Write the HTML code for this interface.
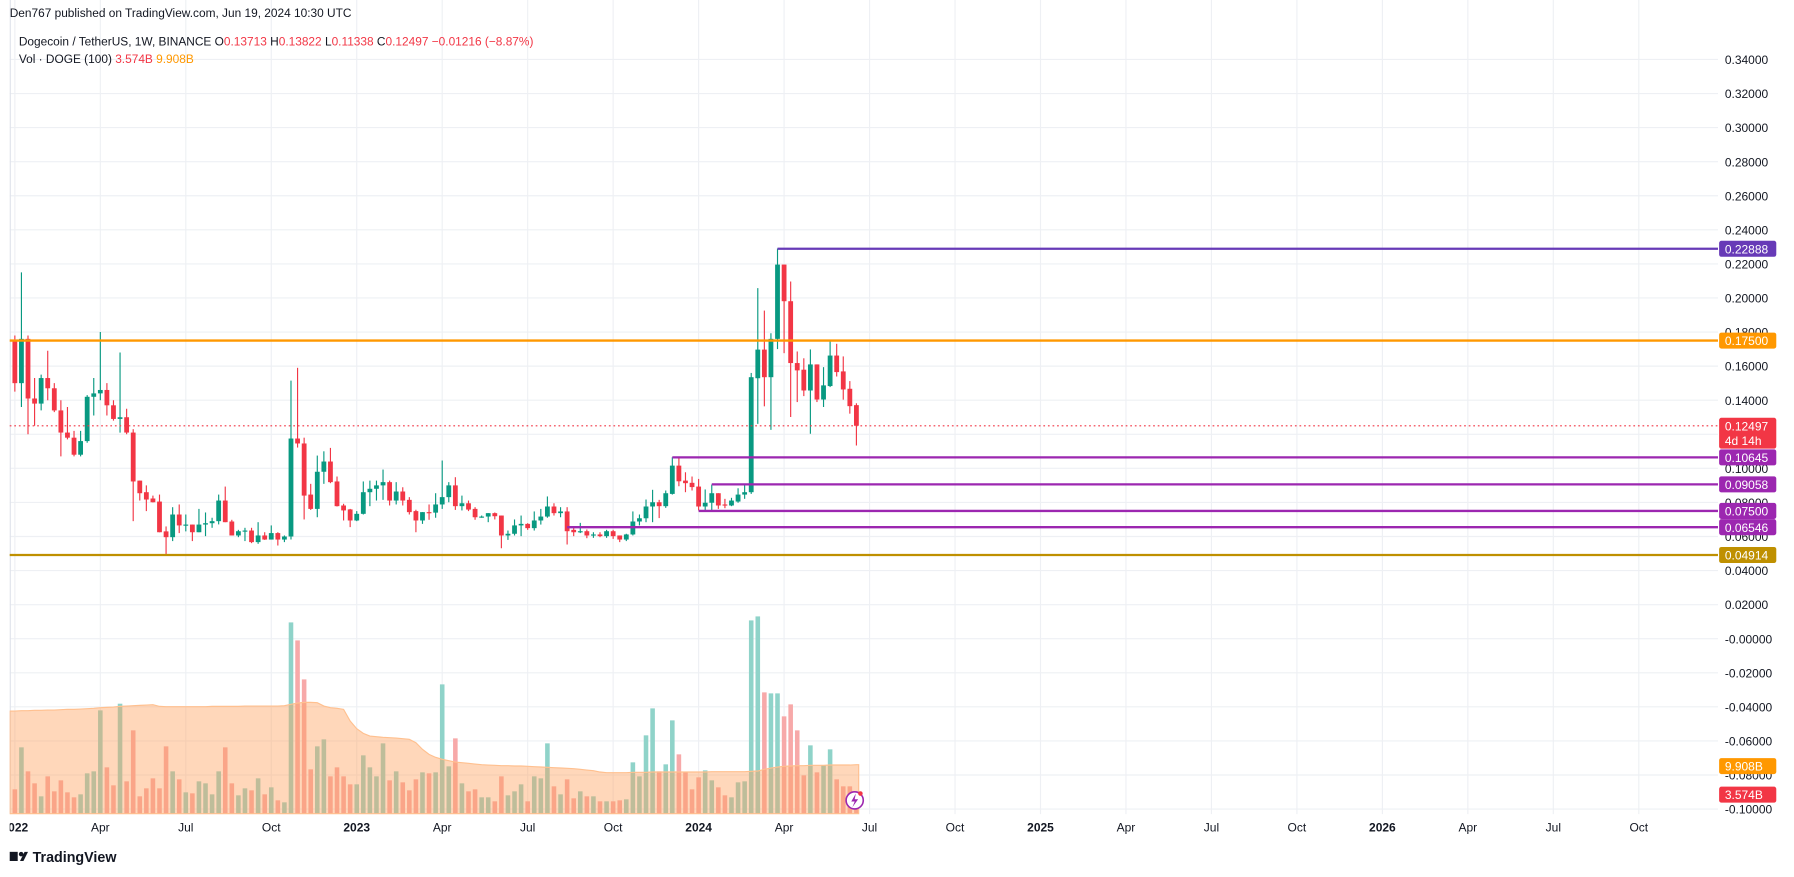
<!DOCTYPE html>
<html><head><meta charset="utf-8"><style>
html,body{margin:0;padding:0;background:#fff;}
svg{display:block;font-family:"Liberation Sans",sans-serif;}
</style></head><body>
<svg id="chart" width="1794" height="877" viewBox="0 0 1568 767" xmlns="http://www.w3.org/2000/svg">
<defs><clipPath id="plotclip"><rect x="8" y="0" width="1494" height="767"/></clipPath></defs>
<rect x="0" y="0" width="1568" height="767" fill="#fff"/>
<g id="grid"></g>
<line x1="8.5" y1="0" x2="8.5" y2="712" stroke="#e0e3eb" stroke-width="1"/>
<g id="volume" clip-path="url(#plotclip)"></g>
<g id="candles" clip-path="url(#plotclip)"></g>
<g id="levels"></g>
<g id="yaxis"></g>
<g id="xaxis"></g>
<g>
<text x="8" y="15" font-size="10.4" fill="#131722">Den767 published on TradingView.com, Jun 19, 2024 10:30 UTC</text>
<text x="16" y="40" font-size="10.4" fill="#131722">Dogecoin / TetherUS, 1W, BINANCE <tspan fill="#131722">O</tspan><tspan fill="#f23645">0.13713</tspan> <tspan fill="#131722">H</tspan><tspan fill="#f23645">0.13822</tspan> <tspan fill="#131722">L</tspan><tspan fill="#f23645">0.11338</tspan> <tspan fill="#131722">C</tspan><tspan fill="#f23645">0.12497 −0.01216 (−8.87%)</tspan></text>
<text x="16" y="55" font-size="10.4" fill="#131722">Vol · DOGE (100) <tspan fill="#f23645">3.574B</tspan> <tspan fill="#ff9800">9.908B</tspan></text>
</g>
<g>
<rect x="8" y="745" width="7" height="8" fill="#131722"/><circle cx="18" cy="747" r="2" fill="#131722"/><path d="M17 753 L21 745 L24 745 L20 753 Z" fill="#131722"/>
<text x="28" y="754" font-size="12.5" font-weight="bold" fill="#131722">TradingView</text>
</g>
<g>
<circle cx="747" cy="700" r="7.5" fill="#fff" stroke="#9c27b0" stroke-width="1.4"/>
<path d="M748 694 L744 701 L747 701 L745 706 L750 699 L747 699 Z" fill="#9c27b0"/>
<circle cx="752" cy="694" r="2" fill="#f23645"/>
</g>
<script>
const opens=[0.175,0.150,0.176,0.141,0.138,0.153,0.147,0.134,0.121,0.118,0.108,0.116,0.142,0.144,0.146,0.137,0.129,0.130,0.121,0.0928,0.086,0.0823,0.0805,0.063,0.0596,0.0729,0.0665,0.067,0.0625,0.067,0.0678,0.069,0.0811,0.0688,0.0606,0.0631,0.0635,0.0567,0.0606,0.0582,0.062,0.0582,0.060,0.1175,0.1146,0.0846,0.0762,0.098,0.104,0.0923,0.0782,0.0759,0.0694,0.0733,0.086,0.088,0.090,0.0919,0.0811,0.0864,0.0815,0.0749,0.0694,0.0743,0.074,0.0788,0.0831,0.090,0.0778,0.0795,0.0762,0.0713,0.0717,0.0737,0.0723,0.0606,0.0616,0.0665,0.0674,0.0649,0.0694,0.0717,0.0776,0.0737,0.0747,0.0639,0.0625,0.0631,0.0606,0.0612,0.0602,0.0631,0.0606,0.0582,0.0612,0.0688,0.0707,0.0776,0.0801,0.0778,0.085,0.1016,0.0928,0.0915,0.0893,0.0776,0.0798,0.0854,0.0788,0.0782,0.0805,0.0846,0.086,0.1529,0.1697,0.1535,0.176,0.2196,0.1981,0.1618,0.1579,0.1457,0.161,0.1404,0.1483,0.1662,0.1569,0.1467,0.1371];
const highs=[0.178,0.215,0.178,0.153,0.155,0.169,0.150,0.140,0.136,0.122,0.122,0.143,0.153,0.180,0.150,0.140,0.168,0.135,0.123,0.0928,0.090,0.0840,0.0846,0.0659,0.0772,0.0788,0.0729,0.067,0.0762,0.0741,0.0710,0.0846,0.0893,0.0698,0.0639,0.0651,0.0651,0.0684,0.0625,0.0665,0.0625,0.0606,0.1515,0.159,0.118,0.0909,0.1075,0.110,0.112,0.0952,0.0792,0.0762,0.0749,0.0923,0.0928,0.0928,0.0993,0.0928,0.0919,0.0889,0.0831,0.0757,0.0743,0.0788,0.0854,0.1046,0.0919,0.0948,0.0840,0.0811,0.0772,0.0723,0.0737,0.0741,0.0723,0.0635,0.0700,0.0723,0.0678,0.0747,0.0762,0.0835,0.0795,0.0772,0.0772,0.0651,0.0680,0.0641,0.0625,0.0625,0.0639,0.0639,0.0606,0.0616,0.0747,0.0729,0.0817,0.0874,0.0815,0.0870,0.1065,0.1065,0.0977,0.0952,0.0938,0.0876,0.0905,0.0854,0.0821,0.0827,0.0883,0.0903,0.156,0.2058,0.1926,0.1793,0.229,0.2196,0.2097,0.1686,0.1646,0.1698,0.161,0.1594,0.175,0.1731,0.1657,0.1512,0.1382];
const lows=[0.145,0.136,0.120,0.125,0.134,0.140,0.133,0.107,0.117,0.107,0.107,0.115,0.131,0.140,0.131,0.128,0.121,0.120,0.069,0.0811,0.0749,0.0800,0.0625,0.0494,0.0573,0.0620,0.0630,0.0573,0.0625,0.0602,0.0651,0.0671,0.0684,0.0606,0.0596,0.0573,0.0561,0.0557,0.0580,0.0582,0.0547,0.0567,0.0582,0.1122,0.070,0.0756,0.0713,0.0909,0.0913,0.0776,0.0694,0.0655,0.0690,0.0729,0.0778,0.0811,0.0815,0.0782,0.0788,0.0782,0.0729,0.0625,0.0674,0.0698,0.0710,0.0762,0.0801,0.0756,0.0753,0.0749,0.0698,0.0710,0.0684,0.0700,0.0531,0.0580,0.0606,0.0602,0.0639,0.0635,0.0670,0.0710,0.0723,0.0713,0.0553,0.0602,0.0620,0.0590,0.0592,0.0596,0.0592,0.0586,0.0567,0.0573,0.0606,0.0665,0.0684,0.0684,0.0708,0.0768,0.0846,0.0895,0.0860,0.0870,0.0753,0.0753,0.0753,0.0762,0.0766,0.0778,0.0798,0.0821,0.0850,0.1261,0.1364,0.1226,0.170,0.1676,0.1301,0.1389,0.1424,0.1203,0.1389,0.1360,0.1477,0.1539,0.1403,0.1321,0.1134];
const closes=[0.150,0.176,0.141,0.138,0.153,0.147,0.134,0.121,0.118,0.108,0.116,0.142,0.144,0.146,0.137,0.129,0.130,0.121,0.0923,0.0854,0.0817,0.0801,0.0625,0.0596,0.0729,0.0665,0.0670,0.0625,0.067,0.0678,0.069,0.0811,0.0684,0.0606,0.0631,0.0635,0.0567,0.0606,0.0582,0.062,0.0582,0.060,0.1175,0.1146,0.084,0.0762,0.098,0.104,0.0919,0.0778,0.0753,0.0694,0.0733,0.086,0.088,0.090,0.0919,0.0811,0.0864,0.0811,0.0743,0.0694,0.0743,0.074,0.0788,0.0831,0.090,0.0778,0.0795,0.0758,0.0713,0.0717,0.0737,0.0719,0.0606,0.0616,0.0665,0.0674,0.0649,0.0694,0.0717,0.0776,0.0737,0.0747,0.0631,0.0625,0.0631,0.0606,0.0612,0.0602,0.0631,0.0602,0.0582,0.0612,0.0688,0.0707,0.0776,0.0801,0.0778,0.0854,0.1016,0.0924,0.0913,0.089,0.0776,0.0798,0.0854,0.0782,0.0782,0.0811,0.0846,0.086,0.1535,0.1697,0.1535,0.176,0.2196,0.1981,0.1618,0.1575,0.1457,0.161,0.1404,0.1487,0.1662,0.1565,0.1463,0.1365,0.1250];
const volumes=[73,199,127,91,52,112,67,100,64,49,58,121,127,310,139,85,330,97,250,52,76,106,76,202,127,103,64,61,97,91,58,127,199,91,55,76,70,106,58,79,40,34,574,520,403,133,202,223,112,139,112,88,88,175,139,112,211,100,127,94,70,103,124,121,124,388,142,226,91,67,73,49,49,37,112,55,67,88,37,112,106,211,82,58,103,46,67,52,52,37,37,37,40,43,154,112,235,316,127,148,280,178,124,73,109,130,100,79,55,49,94,97,580,592,364,361,361,292,328,250,115,205,124,145,193,103,82,82,60];
const volumeMA=[308,309,309,310,310,311,311,312,313,313,314,315,316,318,319,320,322,323,324,325,326,327,322,321,321,321,321,321,321,321,322,322,322,322,322,323,323,323,323,323,323,324,328,332,334,334,333,323,318,316,313,278,255,241,233,231,229,228,227,225,223,213,193,178,169,163,159,155,153,151,149,147,146,145,144,144,143,143,142,141,140,139,138,137,136,135,133,131,129,125,123,123,123,123,124,124,124,125,125,125,125,125,125,125,125,125,126,126,126,126,126,126,127,128,133,137,140,142,143,144,144,145,145,145,146,146,146,146,147];
const priceTicks=[0.34,0.32,0.30,0.28,0.26,0.24,0.22,0.20,0.18,0.16,0.14,0.12,0.10,0.08,0.06,0.04,0.02,0.00,-0.02,-0.04,-0.06,-0.08,-0.10];
const timeLabels=["2022","Apr","Jul","Oct","2023","Apr","Jul","Oct","2024","Apr","Jul","Oct","2025","Apr","Jul","Oct","2026","Apr","Jul","Oct"];
const timeLabelWeeks=[0,13,26,39,52,65,78,91,104,117,130,143,156,169,182,195,208,221,234,247];
const levelPrices=[0.22888,0.175,0.10645,0.09058,0.075,0.06546,0.04914];
const levelStartWeeks=[116,-3,100,106,104,84,-3];
const levelColors=["#673ab7","#ff9800","#9c27b0","#9c27b0","#9c27b0","#9c27b0","#bf9000"];
const levelNames=["level-0-22888","level-0-175","level-0-10645","level-0-09058","level-0-075","level-0-06546","level-0-04914"];
const lastPrice=0.12497;

const NS="http://www.w3.org/2000/svg";
const X0=12.5, STEP=5.75, PLOT_R=1502;
function xOf(i){return X0+i*STEP;}
function yOf(p){return 52+(0.34-p)*1490;}
const VOL_BASE=711.6, VOL_SCALE=0.2914;
function vY(v){return VOL_BASE-v*VOL_SCALE;}
function mk(tag,attrs,parent){const e=document.createElementNS(NS,tag);for(const k in attrs)e.setAttribute(k,attrs[k]);parent.appendChild(e);return e;}

const grid=document.getElementById('grid');
priceTicks.forEach(p=>{mk('line',{x1:8,x2:PLOT_R,y1:yOf(p),y2:yOf(p),stroke:'#eef0f4','stroke-width':1},grid);});
timeLabelWeeks.forEach(w=>{const x=xOf(w);if(x>8)mk('line',{x1:x,x2:x,y1:0,y2:712,stroke:'#eef0f4','stroke-width':1},grid);});

const vol=document.getElementById('volume');
volumes.forEach((v,i)=>{
  const up=closes[i]>=opens[i];
  const r=mk('rect',{x:xOf(i)-2,y:vY(v),width:4,height:v*VOL_SCALE,fill:up?'#8fd3c9':'#f7a9a9'},vol);
  
  
});
let d='M8 '+VOL_BASE+' L8 '+vY(volumeMA[0]);
volumeMA.forEach((v,i)=>{d+=' L'+xOf(i)+' '+vY(v);});
d+=' L'+(xOf(volumeMA.length-1)+2)+' '+vY(volumeMA[volumeMA.length-1])+' L'+(xOf(volumeMA.length-1)+2)+' '+VOL_BASE+' Z';
const area=mk('path',{d:d,fill:'#ff9f5a','fill-opacity':0.42,stroke:'#ffc08f','stroke-width':1},vol);



const cg=document.getElementById('candles');
closes.forEach((c,i)=>{
  const o=opens[i],up=c>=o,col=up?'#089981':'#f23645',x=xOf(i);
  const g=mk('g',{},cg);
  
  
  mk('line',{x1:x,x2:x,y1:yOf(highs[i]),y2:yOf(lows[i]),stroke:col,'stroke-width':1},g);
  const top=yOf(Math.max(o,c)),bot=yOf(Math.min(o,c));
  mk('rect',{x:x-2.1,y:top,width:4.2,height:Math.max(1,bot-top),fill:col},g);
});

const lv=document.getElementById('levels');
const cur=mk('line',{x1:8,x2:PLOT_R,y1:yOf(lastPrice),y2:yOf(lastPrice),stroke:'#f23645','stroke-width':1,'stroke-dasharray':'1.5,2.5'},lv);


levelPrices.forEach((p,k)=>{
  const x1=Math.max(8,xOf(levelStartWeeks[k]));
  const l=mk('line',{x1:x1,x2:PLOT_R,y1:yOf(p),y2:yOf(p),stroke:levelColors[k],'stroke-width':2},lv);
  
  
});

const ya=document.getElementById('yaxis');
priceTicks.forEach(p=>{
  const t=mk('text',{x:1508,y:yOf(p)+4,'font-size':10.5,fill:'#131722'},ya);
  t.textContent=(p<=0?'-':'')+Math.abs(p).toFixed(5);
  
  
});
function box(y,h,col,lines,name){
  const g=mk('g',{},ya);
  
  
  mk('rect',{x:1503,y:y,width:50,height:h,rx:2,fill:col},g);
  lines.forEach((s,j)=>{const t=mk('text',{x:1508,y:y+11+j*13,'font-size':10.5,fill:'#fff'},g);t.textContent=s;});
}
levelPrices.forEach((p,k)=>{box(yOf(p)-7,14,levelColors[k],[p.toFixed(5)],levelNames[k]+'-label');});
box(yOf(lastPrice)-7,27,'#f23645',[lastPrice.toFixed(5),'4d 14h'],'last-price-label');
box(663,14,'#ff9800',['9.908B'],'volume-ma-label');
box(688,14,'#f23645',['3.574B'],'volume-label');

const xa=document.getElementById('xaxis');
timeLabels.forEach((s,k)=>{
  const x=xOf(timeLabelWeeks[k]);
  const t=mk('text',{x:x,y:727,'font-size':10.5,fill:'#131722','text-anchor':'middle','font-weight':(s.length===4?'bold':'normal'),'clip-path':'url(#plotclip)'},xa);
  t.textContent=s;
  
  
});
</script>
</svg>
</body></html>
